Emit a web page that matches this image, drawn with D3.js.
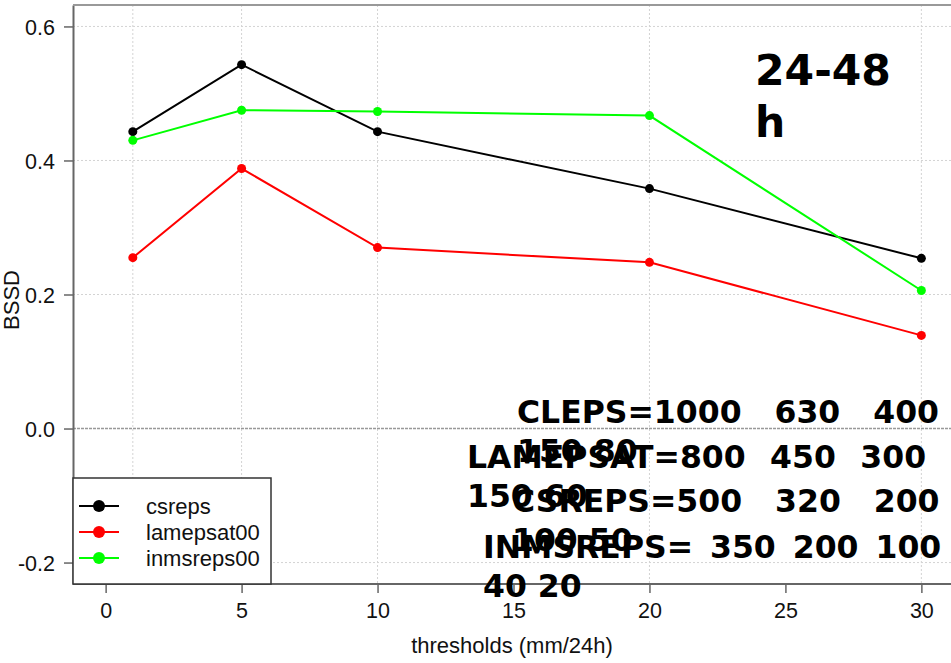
<!DOCTYPE html>
<html>
<head>
<meta charset="utf-8">
<script src="https://cdn.jsdelivr.net/npm/d3@7"></script>
<style>
  body { margin: 0; background: white; }
  svg text { font-family: "Liberation Sans", Arial, sans-serif; }
  .big { font-family: "DejaVu Sans", sans-serif !important; font-weight: bold; white-space: pre; }
</style>
</head>
<body>
<div id="chart"></div>
<script>
// data
thresholds = [1, 5, 10, 20, 30];
csreps = [0.443, 0.543, 0.443, 0.358, 0.254];
lamepsat00 = [0.255, 0.388, 0.270, 0.248, 0.139];
inmsreps00 = [0.430, 0.475, 0.473, 0.467, 0.206];
series_names = ["csreps", "lamepsat00", "inmsreps00"];
series_colors = ["#000000", "#ff0000", "#00ff00"];
x_ticks = [0, 5, 10, 15, 20, 25, 30];
y_ticks = [-0.2, 0.0, 0.2, 0.4, 0.6];
members_text = [
  ["CLEPS=1000 630 400", "150 80"],
  ["LAMEPSAT=800 450 300", "150 60"],
  ["CSREPS=500 320 200", "100 50"],
  ["INMSREPS= 350 200 100", "40 20"]
];

width = 951;
height = 663;

svg = d3.select("#chart")
    .append("svg")
    .attr("width", width)
    .attr("height", height);

x = d3.scaleLinear().domain([-1.2, 31.2]).range([73, 954]);
y = d3.scaleLinear().domain([-0.232, 0.632]).range([584, 5]);

// grid
svg.append("g").selectAll("line")
    .data(thresholds)
    .join("line")
    .attr("x1", d => x(d)).attr("x2", d => x(d))
    .attr("y1", y.range()[1]).attr("y2", y.range()[0])
    .attr("stroke", "#d3d3d3")
    .attr("stroke-dasharray", "2,2");

svg.append("g").selectAll("line")
    .data(y_ticks)
    .join("line")
    .attr("x1", 73).attr("x2", width)
    .attr("y1", d => y(d)).attr("y2", d => y(d))
    .attr("stroke", d => d == 0 ? "#999" : "#d3d3d3")
    .attr("stroke-width", d => d == 0 ? 1.5 : 1)
    .attr("stroke-dasharray", d => d == 0 ? "3,1" : "2,2");

// series
all_series = [csreps, lamepsat00, inmsreps00];
line = d3.line().x((d, i) => x(thresholds[i])).y(d => y(d));

all_series.forEach((values, k) => {
    svg.append("path")
	.datum(values)
	.attr("d", line)
	.attr("fill", "none")
	.attr("stroke", series_colors[k])
	.attr("stroke-width", 2);
    svg.append("g").selectAll("circle")
	.data(values)
	.join("circle")
	.attr("cx", (d, i) => x(thresholds[i]))
	.attr("cy", d => y(d))
	.attr("r", 4.5)
	.attr("fill", series_colors[k]);
});

// axes
xAxis = svg.append("g")
    .attr("transform", "translate(0,584)")
    .call(d3.axisBottom(x).tickValues(x_ticks).tickSize(9).tickPadding(10).tickSizeOuter(0));
yAxis = svg.append("g")
    .attr("transform", "translate(73,0)")
    .call(d3.axisLeft(y).tickValues(y_ticks).tickFormat(d => d.toFixed(1)).tickSize(9).tickPadding(9).tickSizeOuter(0));

[xAxis, yAxis].forEach(a => {
    a.select(".domain").attr("stroke", "#666").attr("stroke-width", 2);
    a.selectAll(".tick line").attr("stroke", "#666").attr("stroke-width", 1.5);
    a.selectAll(".tick text")
	.style("font-family", "Liberation Sans, Arial, sans-serif")
	.style("font-size", "21.5px")
	.attr("fill", "#111");
});
xAxis.select(".domain").attr("d", `M73,0H${width}`);
yAxis.selectAll(".tick text").attr("dy", "0.36em");

// top border
svg.append("line")
    .attr("x1", 73).attr("x2", width)
    .attr("y1", 5).attr("y2", 5)
    .attr("stroke", "#999")
    .attr("stroke-width", 2);

// axis titles
svg.append("text")
    .attr("x", 512).attr("y", 653)
    .attr("text-anchor", "middle")
    .style("font-size", "22px")
    .attr("fill", "#111")
    .text("thresholds (mm/24h)");

svg.append("text")
    .attr("transform", "translate(19,300) rotate(-90)")
    .attr("text-anchor", "middle")
    .style("font-size", "22px")
    .attr("fill", "#111")
    .text("BSSD");

// legend
legend = svg.append("g");
legend.append("rect")
    .attr("x", 73).attr("y", 478)
    .attr("width", 198).attr("height", 106)
    .attr("fill", "white")
    .attr("stroke", "#333")
    .attr("stroke-width", 1.5);

legend_rows = [506, 532, 558];
series_names.forEach((name, k) => {
    legend.append("line")
	.attr("x1", 79).attr("x2", 119)
	.attr("y1", legend_rows[k]).attr("y2", legend_rows[k])
	.attr("stroke", series_colors[k])
	.attr("stroke-width", 2);
    legend.append("circle")
	.attr("cx", 99).attr("cy", legend_rows[k])
	.attr("r", 6)
	.attr("fill", series_colors[k]);
    legend.append("text")
	.attr("x", 146).attr("y", legend_rows[k])
	.attr("dy", "0.36em")
	.style("font-size", "22px")
	.attr("fill", "#111")
	.text(name);
});

// lead time label
svg.append("text")
    .attr("class", "big")
    .attr("x", 755).attr("y", 85)
    .style("font-size", "42.5px")
    .text("24-48");
svg.append("text")
    .attr("class", "big")
    .attr("x", 755).attr("y", 137)
    .style("font-size", "42.5px")
    .text("h");

// ensemble member counts (wrapped as in the original)
members_x = [517, 467, 512, 483];
members_y = [423, 468, 512, 558];
members_gap = [22, 13.5, 22, 6];
members_text.forEach((lines, k) => {
    lines.forEach((t, j) => {
	svg.append("text")
	    .attr("class", "big")
	    .attr("x", members_x[k])
	    .attr("y", members_y[k] + j * 39)
	    .style("font-size", "31.5px")
	    .style("word-spacing", j == 0 ? members_gap[k] + "px" : "0px")
	    .text(t);
    });
});
</script>
</body>
</html>
